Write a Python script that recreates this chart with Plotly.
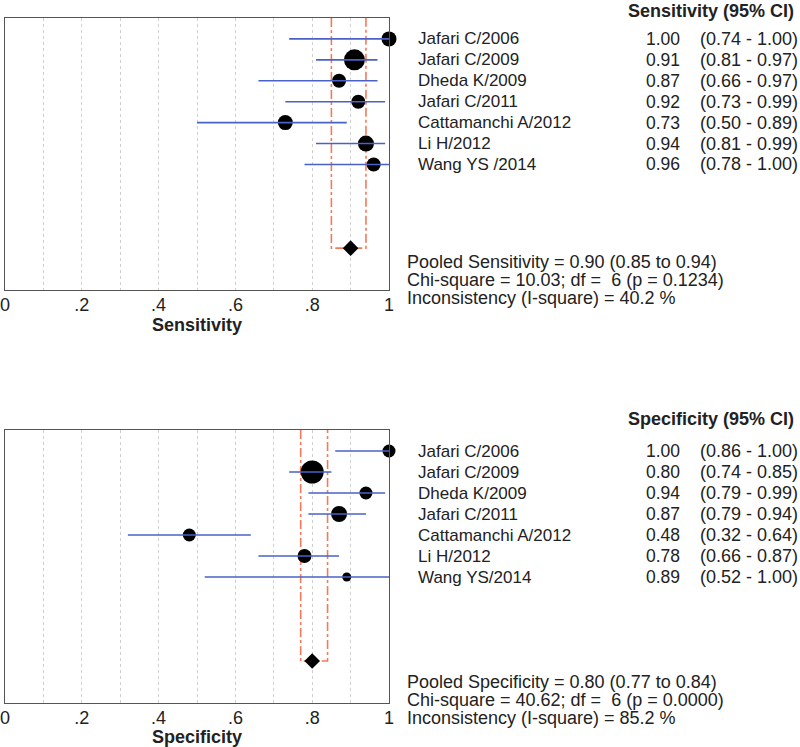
import plotly.graph_objects as go

# ---------------- data ----------------
studies_sens = ["Jafari C/2006", "Jafari C/2009", "Dheda K/2009", "Jafari C/2011",
                "Cattamanchi A/2012", "Li H/2012", "Wang YS /2014"]
sens = [1.00, 0.91, 0.87, 0.92, 0.73, 0.94, 0.96]
sens_lo = [0.74, 0.81, 0.66, 0.73, 0.50, 0.81, 0.78]
sens_hi = [1.00, 0.97, 0.97, 0.99, 0.89, 0.99, 1.00]
sens_weight = [15, 21, 14, 14, 15, 16, 14]
pooled_sens = [0.90, 0.85, 0.94]
sens_stats = ["Pooled Sensitivity = 0.90 (0.85 to 0.94)",
              "Chi-square = 10.03; df =  6 (p = 0.1234)",
              "Inconsistency (I-square) = 40.2 %"]

studies_spec = ["Jafari C/2006", "Jafari C/2009", "Dheda K/2009", "Jafari C/2011",
                "Cattamanchi A/2012", "Li H/2012", "Wang YS/2014"]
spec = [1.00, 0.80, 0.94, 0.87, 0.48, 0.78, 0.89]
spec_lo = [0.86, 0.74, 0.79, 0.79, 0.32, 0.66, 0.52]
spec_hi = [1.00, 0.85, 0.99, 0.94, 0.64, 0.87, 1.00]
spec_weight = [13, 23, 13, 16, 13, 14, 9]
pooled_spec = [0.80, 0.77, 0.84]
spec_stats = ["Pooled Specificity = 0.80 (0.77 to 0.84)",
              "Chi-square = 40.62; df =  6 (p = 0.0000)",
              "Inconsistency (I-square) = 85.2 %"]

tick_vals = [0, 0.2, 0.4, 0.6, 0.8, 1]
tick_text = ["0", ".2", ".4", ".6", ".8", "1"]

# ---------------- layout helpers ----------------
W, H = 800, 747
FONT = "Liberation Sans, Arial, sans-serif"
TXT = "#222222"
BLUE = "#4a62c8"
RED = "#f27a5c"

def px(x):
    return x / W

def py(y):
    return 1 - y / H

fig = go.Figure()

panels = [
    dict(names=studies_sens, est=sens, lo=sens_lo, hi=sens_hi, w=sens_weight,
         pooled=pooled_sens, stats=sens_stats, title="Sensitivity",
         header="Sensitivity (95% CI)", xa="x", ya="y",
         top=18, bottom=290, header_y=11, stat_y=[262, 280, 298]),
    dict(names=studies_spec, est=spec, lo=spec_lo, hi=spec_hi, w=spec_weight,
         pooled=pooled_spec, stats=spec_stats, title="Specificity",
         header="Specificity (95% CI)", xa="x2", ya="y2",
         top=430, bottom=703, header_y=419, stat_y=[682, 700, 718]),
]

annotations = []
for i, p in enumerate(panels):
    n = len(p["est"])
    rows = list(range(1, n + 1))
    pooled_row = n + 4
    # pooled CI bracket (dash-dot)
    fig.add_trace(go.Scatter(
        x=[p["pooled"][1], p["pooled"][1], p["pooled"][2], p["pooled"][2]],
        y=[0, pooled_row, pooled_row, 0], mode="lines",
        line=dict(color=RED, width=1.6, dash="dashdot"),
        xaxis=p["xa"], yaxis=p["ya"], showlegend=False, hoverinfo="skip"))
    # study estimates
    fig.add_trace(go.Scatter(
        x=p["est"], y=rows, mode="markers", cliponaxis=False,
        marker=dict(color="black", size=p["w"], opacity=1, line=dict(width=0)),
        xaxis=p["xa"], yaxis=p["ya"], showlegend=False))
    # CI lines drawn over the markers
    cx, cy = [], []
    for r, l, h in zip(rows, p["lo"], p["hi"]):
        cx += [l, h, None]
        cy += [r, r, None]
    fig.add_trace(go.Scatter(
        x=cx, y=cy, mode="lines", line=dict(color=BLUE, width=1.6),
        xaxis=p["xa"], yaxis=p["ya"], showlegend=False, hoverinfo="skip"))
    # pooled diamond
    fig.add_trace(go.Scatter(
        x=[p["pooled"][0]], y=[pooled_row], mode="markers", cliponaxis=False,
        marker=dict(color="black", symbol="diamond", size=12, opacity=1),
        xaxis=p["xa"], yaxis=p["ya"], showlegend=False))

    # header
    annotations.append(dict(text="<b>" + p["header"] + "</b>", x=px(796), y=py(p["header_y"]),
                            xref="paper", yref="paper", xanchor="right", yanchor="middle",
                            showarrow=False, font=dict(family=FONT, size=18, color=TXT)))
    for r, name, e, l, h in zip(rows, p["names"], p["est"], p["lo"], p["hi"]):
        annotations.append(dict(text=name, x=px(416), y=r, xref="paper", yref=p["ya"],
                                xanchor="left", yanchor="middle", showarrow=False,
                                font=dict(family=FONT, size=17, color=TXT)))
        annotations.append(dict(text=f"{e:.2f}", x=px(682), y=r, xref="paper", yref=p["ya"],
                                xanchor="right", yanchor="middle", showarrow=False,
                                font=dict(family=FONT, size=17.5, color=TXT)))
        annotations.append(dict(text=f"({l:.2f} - {h:.2f})", x=px(698), y=r, xref="paper",
                                yref=p["ya"], xanchor="left", yanchor="middle",
                                showarrow=False, font=dict(family=FONT, size=18, color=TXT)))
    for s, yy in zip(p["stats"], p["stat_y"]):
        annotations.append(dict(text=s, x=px(405), y=py(yy), xref="paper", yref="paper",
                                xanchor="left", yanchor="middle", showarrow=False,
                                font=dict(family=FONT, size=18, color=TXT)))

    xaxis = dict(domain=[px(5), px(389)], range=[0, 1], anchor=p["ya"],
                 tickvals=tick_vals, ticktext=tick_text, ticks="",
                 tickfont=dict(family=FONT, size=18, color=TXT),
                 ticklabeloverflow="allow", ticklabelstandoff=-2,
                 showline=True, mirror=True, linecolor="#555555", linewidth=1,
                 showgrid=True, gridcolor="#cfcfcf", griddash="dot", gridwidth=1,
                 minor=dict(dtick=0.1, showgrid=True, gridcolor="#cfcfcf", griddash="dot"),
                 zeroline=False, automargin=False,
                 title=dict(text="<b>" + p["title"] + "</b>", standoff=1,
                            font=dict(family=FONT, size=18, color=TXT)))
    yaxis = dict(domain=[py(p["bottom"]), py(p["top"])], range=[n + 6, 0],
                 anchor=p["xa"], showticklabels=False, ticks="", showgrid=False,
                 zeroline=False, showline=True, mirror=True, linecolor="#555555",
                 linewidth=1, automargin=False)
    key = "" if i == 0 else "2"
    fig.layout["xaxis" + key] = xaxis
    fig.layout["yaxis" + key] = yaxis

fig.update_layout(width=W, height=H, margin=dict(l=0, r=0, t=0, b=0),
                  paper_bgcolor="white", plot_bgcolor="white",
                  annotations=annotations, showlegend=False)

fig.write_html("out.html", config={"displayModeBar": False},
               post_script="document.body.style.margin='0';document.body.style.overflow='hidden';")
